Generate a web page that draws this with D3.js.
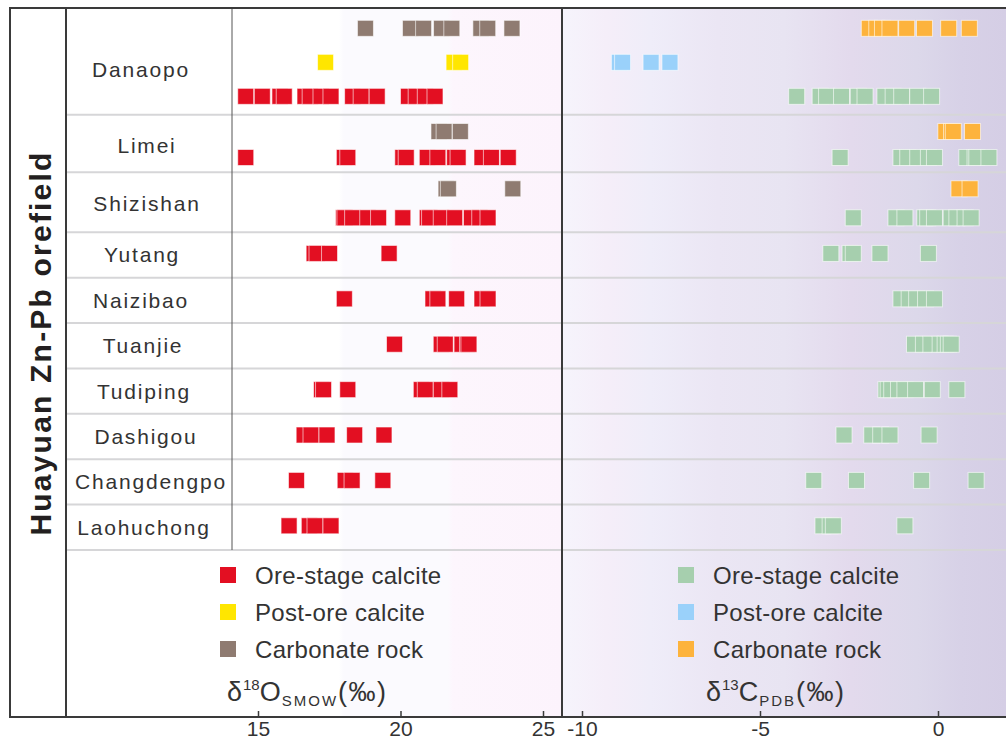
<!DOCTYPE html>
<html>
<head>
<meta charset="utf-8">
<script src="https://cdn.jsdelivr.net/npm/d3@7"></script>
<style>
  html, body { margin: 0; padding: 0; background: #fff; }
  svg { display: block; font-family: "Liberation Sans", Arial, sans-serif; }
</style>
</head>
<body>
<svg id="chart" width="1006" height="742"></svg>
<script>
// ---------------- DATA ----------------
const sites = ["Danaopo", "Limei", "Shizishan", "Yutang", "Naizibao", "Tuanjie",
               "Tudiping", "Dashigou", "Changdengpo", "Laohuchong"];

// δ18O SMOW (‰)
const oxyOre = [
  [14.57, 15.15, 15.77, 15.92, 16.65, 16.83, 17.21, 17.56, 18.32, 18.62, 19.18, 20.28, 20.55, 20.87, 21.21],
  [14.57, 18.03, 18.15, 20.08, 20.2, 20.94, 21.31, 21.9, 22.02, 22.86, 23.19, 23.78],
  [18.0, 18.05, 18.32, 18.85, 19.23, 20.08, 20.94, 21.02, 21.43, 21.9, 22.49, 22.78, 23.07],
  [16.97, 17.07, 17.51, 19.6],
  [18.03, 21.14, 21.31, 21.97, 22.86, 23.07],
  [19.79, 21.43, 21.57, 22.16, 22.35, 22.4],
  [17.23, 17.3, 18.15, 20.73, 20.87, 21.43, 21.73],
  [16.62, 16.86, 17.42, 18.39, 19.42],
  [16.35, 18.06, 18.3, 19.38],
  [16.09, 16.8, 17.0, 17.56]
];
const oxyPost = [[17.37, 21.88, 22.11], [], [], [], [], [], [], [], [], []];
const oxyCarb = [
  [18.77, 20.35, 20.81, 21.44, 21.8, 22.82, 23.06, 23.91],
  [21.35, 21.53, 22.1],
  [21.6, 21.68, 23.94],
  [], [], [], [], [], [], []
];

// δ13C PDB (‰)
const carOre = [
  [-3.97, -3.31, -3.13, -2.71, -2.24, -2.05, -1.49, -1.26, -1.02, -0.57, -0.18],
  [-2.75, -1.04, -0.85, -0.57, -0.27, -0.10, 0.81, 1.04, 1.09, 1.43],
  [-2.38, -1.18, -0.93, -0.37, -0.29, -0.10, 0.37, 0.53, 0.76, 0.93],
  [-3.01, -2.47, -2.38, -1.63, -0.27],
  [-1.04, -0.81, -0.60, -0.35, -0.10],
  [-0.66, -0.41, -0.20, 0.06, 0.20, 0.29, 0.37],
  [-1.46, -1.40, -1.30, -1.11, -0.93, -0.63, -0.16, 0.53],
  [-2.64, -1.86, -1.61, -1.35, -0.25],
  [-3.49, -2.29, -0.46, 1.07],
  [-3.23, -3.03, -2.94, -0.93]
];
const carPost = [[-8.95, -8.86, -8.06, -7.53], [], [], [], [], [], [], [], [], []];
const carCarb = [
  [-1.93, -1.72, -1.56, -1.35, -0.88, -0.38, 0.30, 0.88],
  [0.22, 0.38, 0.43, 0.97],
  [0.59, 0.90],
  [], [], [], [], [], [], []
];

const oTicks = [15, 20, 25];
const cTicks = [-10, -5, 0];
const legendLabels = ["Ore-stage calcite", "Post-ore calcite", "Carbonate rock"];
const title = "Huayuan Zn-Pb orefield";

// ---------------- LAYOUT ----------------
const W = 1006, H = 742;
const frameL = 10, frameT = 8, axisY = 717;
const nameX = 66, dataX = 232, divX = 562, rowsBottom = 550;
const rowUnits = [2.35, 1.27, 1.32, 1, 1, 1, 1, 1, 1, 1];
const subStep = [34, 26, 29, 0, 0, 0, 0, 0, 0, 0];
const labelShift = [8, 2, 1, 0, 0, 0, 0, 0, 0, 0];
const labelX = [141, 147, 147, 142, 141, 143, 144, 146, 151, 144];
const sq = 16;

const svg = d3.select("#chart");
const defs = svg.append("defs");

const xO = d3.scaleLinear().domain([15, 25]).range([258, 543]);
const xC = d3.scaleLinear().domain([-10, 0]).range([582, 938]);

const cum = [0];
rowUnits.forEach((u, i) => cum.push(cum[i] + u));
const yU = d3.scaleLinear().domain([0, cum[cum.length - 1]]).range([frameT, rowsBottom]);
const rowCenter = i => yU(cum[i] + rowUnits[i] / 2);

// backgrounds
function grad(id, stops) {
  const g = defs.append("linearGradient").attr("id", id).attr("x1", 0).attr("x2", 1).attr("y1", 0).attr("y2", 0);
  stops.forEach(s => g.append("stop").attr("offset", s[0]).attr("stop-color", s[1]));
}
grad("gL", [[0, "#ffffff"], [0.55, "#ffffff"], [0.56, "#fbfafe"], [0.77, "#fbfafe"], [0.78, "#fdf6fd"], [1, "#fcf3fc"]]);
grad("gR", [[0, "#f6f4fc"], [0.1, "#f5eef9"], [0.2, "#efedf9"], [0.35, "#ebe6f4"], [0.5, "#e8e4f2"],
            [0.65, "#e3daed"], [0.8, "#dcd8ea"], [0.9, "#d7d1e7"], [1, "#d5cee5"]]);

svg.append("rect").attr("x", nameX).attr("y", frameT).attr("width", divX - nameX).attr("height", axisY - frameT).attr("fill", "url(#gL)");
svg.append("rect").attr("x", nameX).attr("y", frameT).attr("width", dataX - nameX).attr("height", rowsBottom - frameT).attr("fill", "#fff");
svg.append("rect").attr("x", divX).attr("y", frameT).attr("width", W - divX).attr("height", axisY - frameT).attr("fill", "url(#gR)");

// row separators
svg.append("g").selectAll("line").data(sites).join("line")
  .attr("x1", nameX).attr("x2", W)
  .attr("y1", (d, i) => yU(cum[i + 1])).attr("y2", (d, i) => yU(cum[i + 1]))
  .attr("stroke", "#d6d6d8").attr("stroke-width", 2);

// row labels
svg.append("g").selectAll("text").data(sites).join("text")
  .attr("x", (d, i) => labelX[i])
  .attr("y", (d, i) => rowCenter(i) + labelShift[i])
  .attr("text-anchor", "middle").attr("dominant-baseline", "central")
  .attr("font-size", 21).attr("letter-spacing", 1.8).attr("fill", "#333")
  .text(d => d);

// series
const series = [
  { vals: oxyCarb, x: xO, kind: 0, color: "#8f7b71" },
  { vals: oxyPost, x: xO, kind: 1, color: "#ffe600" },
  { vals: oxyOre,  x: xO, kind: 2, color: "#e30f22" },
  { vals: carCarb, x: xC, kind: 0, color: "#fdb33c" },
  { vals: carPost, x: xC, kind: 1, color: "#9ad1fa" },
  { vals: carOre,  x: xC, kind: 2, color: "#a6cfae" }
];
const kindsPresent = sites.map((s, i) => [0, 1, 2].filter(k =>
  series.some(se => se.kind === k && se.vals[i].length > 0)));
function subY(i, kind) {
  const ks = kindsPresent[i];
  const idx = ks.indexOf(kind);
  const adj = ks.length > 1 ? 1 : -1.5;
  return rowCenter(i) + (idx - (ks.length - 1) / 2) * subStep[i] + adj;
}

const points = [];
series.forEach(se => {
  se.vals.forEach((arr, i) => {
    arr.forEach(v => points.push({ cx: se.x(v), cy: subY(i, se.kind), color: se.color }));
  });
});
svg.append("g").selectAll("rect").data(points).join("rect")
  .attr("x", d => d.cx - sq / 2).attr("y", d => d.cy - sq / 2)
  .attr("width", sq).attr("height", sq)
  .attr("fill", d => d.color)
  .attr("stroke", "rgba(255,255,255,0.6)").attr("stroke-width", 1);

// frame lines
svg.append("line").attr("x1", dataX).attr("x2", dataX).attr("y1", frameT).attr("y2", rowsBottom).attr("stroke", "#555").attr("stroke-width", 1);
svg.append("path")
  .attr("d", `M${W + 5},${frameT}H${frameL}V${axisY}H${W + 5}`)
  .attr("fill", "none").attr("stroke", "#3a3a3a").attr("stroke-width", 2);
svg.append("line").attr("x1", nameX).attr("x2", nameX).attr("y1", frameT).attr("y2", axisY).attr("stroke", "#3a3a3a").attr("stroke-width", 2);
svg.append("line").attr("x1", divX).attr("x2", divX).attr("y1", frameT).attr("y2", axisY).attr("stroke", "#3a3a3a").attr("stroke-width", 2);

// axes
function drawAxis(scale, ticks) {
  const g = svg.append("g").attr("transform", `translate(0,${axisY})`)
    .call(d3.axisBottom(scale).tickValues(ticks).tickSize(-6).tickPadding(4).tickFormat(d => String(d)));
  g.select(".domain").remove();
  g.selectAll(".tick line").attr("stroke", "#3a3a3a").attr("stroke-width", 1.5);
  g.selectAll(".tick text").attr("font-size", 21).attr("fill", "#333")
    .attr("font-family", "'Liberation Sans', Arial, sans-serif");
  return g;
}
drawAxis(xO, oTicks);
drawAxis(xC, cTicks);

// legends
const legL = [{ c: "#e30f22" }, { c: "#ffe600" }, { c: "#8f7b71" }];
const legR = [{ c: "#a6cfae" }, { c: "#9ad1fa" }, { c: "#fdb33c" }];
function legend(x, items) {
  const g = svg.append("g");
  items.forEach((it, i) => {
    const cy = 575 + i * 37;
    g.append("rect").attr("x", x).attr("y", cy - 8).attr("width", 16).attr("height", 16).attr("fill", it.c);
    g.append("text").attr("x", x + 35).attr("y", cy).attr("dominant-baseline", "central")
      .attr("font-size", 24).attr("letter-spacing", 0.3).attr("fill", "#333").text(legendLabels[i]);
  });
}
legend(220, legL);
legend(678, legR);

// axis titles
function axisTitle(x, sup, main, sub) {
  const t = svg.append("text").attr("x", x).attr("y", 701).attr("fill", "#333").attr("font-size", 27);
  t.append("tspan").attr("letter-spacing", 1).text("δ");
  t.append("tspan").attr("font-size", 15).attr("dy", -11).text(sup);
  t.append("tspan").attr("dy", 11).attr("letter-spacing", 1).text(main);
  t.append("tspan").attr("font-size", 15).attr("dy", 5).attr("letter-spacing", 2).text(sub);
  t.append("tspan").attr("dy", -5).attr("letter-spacing", 1.5).text("(‰)");
}
axisTitle(227, "18", "O", "SMOW");
axisTitle(706, "13", "C", "PDB");

// title
svg.append("text")
  .attr("transform", `translate(51,343) rotate(-90)`)
  .attr("text-anchor", "middle")
  .attr("font-size", 30).attr("font-weight", "bold").attr("fill", "#231f20")
  .attr("letter-spacing", 2.2)
  .text(title);
</script>
</body>
</html>
